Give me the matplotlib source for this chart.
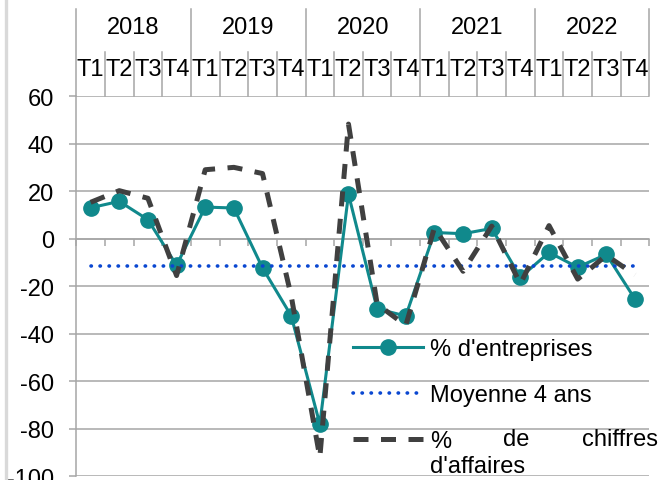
import numpy as np
import matplotlib.pyplot as plt
from matplotlib.lines import Line2D

plt.rcParams['font.family'] = ['Liberation Sans', 'DejaVu Sans']
plt.rcParams['axes.unicode_minus'] = False

# data
years = ['2018', '2019', '2020', '2021', '2022']
quarters = ['T1', 'T2', 'T3', 'T4']
entreprises = [13, 15.7, 8, -11.2, 13.3, 12.9, -12.3, -32.4, -78, 18.7,
               -29.5, -32.5, 2.6, 2.1, 4.3, -16.2, -5.8, -12, -6.6, -25.4]
moyenne = [-11.6, -11.6, -11.6, -11.6, -11.6, -11.6, -11.6, -11.6, -11.6, -11.6,
           -11.6, -11.6, -11.6, -11.6, -11.6, -11.6, -11.6, -11.6, -11.6, -11.6]
chiffres = [15.3, 20.2, 17, -15.5, 29, 30, 27.4, -24, -92, 48.2,
            -27.5, -36.5, 4.6, -13.7, 5.3, -19, 5.5, -17, -7, -15.2]

grey = '#a6a6a6'
fs = 17

fig = plt.figure(figsize=(6.6, 4.81), dpi=100)
ax = fig.add_axes([0.1156, 0.0073, 0.8682, 0.7910])

x = np.arange(len(entreprises))
ax.plot(x, entreprises, color='#10898c', lw=2.2, marker='o', ms=11,
        label="% d'entreprises", zorder=3)
ax.plot(x, moyenne, color='#0a47d1', lw=2.6, linestyle=(0, (0.1, 2.4)),
        dash_capstyle='round', label='Moyenne 4 ans', zorder=4)
ax.plot(x, chiffres, color='#404040', lw=3.6, linestyle=(0, (3, 2.5)),
        label='%', zorder=5)

ax.set_xlim(-0.5, 19.5)
ax.set_ylim(-100, 60)
ax.set_yticks(np.arange(-100, 61, 20))
ax.yaxis.grid(True, color=grey, lw=1.1)
ax.set_axisbelow(True)
ax.tick_params(axis='y', length=5, width=1.1, color=grey, pad=11, labelsize=fs)

# category axis crossing at 0, labels drawn at the top
ax.spines['bottom'].set_position(('data', 0))
ax.spines['bottom'].set_color(grey)
ax.spines['bottom'].set_linewidth(1.1)
ax.spines['left'].set_color(grey)
ax.spines['left'].set_linewidth(1.1)
ax.spines['top'].set_visible(False)
ax.spines['right'].set_visible(False)
ax.set_xticks(np.arange(-0.5, 20, 1))
ax.tick_params(axis='x', length=5, width=1.1, color=grey, labelbottom=False)

tr = ax.get_xaxis_transform()
for i in range(21):
    top = 1.229 if i % 4 == 0 else 1.1156
    ax.plot([i - 0.5, i - 0.5], [1, top], color=grey, lw=1.1,
            transform=tr, clip_on=False)
for i in range(20):
    ax.text(i, 1.07, quarters[i % 4], transform=tr, ha='center', va='center',
            fontsize=fs)
for k, yr in enumerate(years):
    ax.text(4 * k + 1.5, 1.182, yr, transform=tr, ha='center', va='center',
            fontsize=fs)

ax.legend(loc='upper left', bbox_to_anchor=(0.535, 0.295),
          bbox_transform=fig.transFigure, frameon=False, fontsize=fs,
          borderpad=0, borderaxespad=0, handlelength=2.97,
          handletextpad=0.3, labelspacing=1.02)
# rest of the justified third legend label
fig.text(503 / 660, 1 - 440 / 481, 'de', fontsize=fs, va='center', ha='left')
fig.text(582 / 660, 1 - 440 / 481, 'chiffres', fontsize=fs, va='center', ha='left')
fig.text(430 / 660, 1 - 467 / 481, "d'affaires", fontsize=fs, va='center', ha='left')

# light border on the left edge
fig.add_artist(Line2D([0.0098, 0.0098], [0, 1], color='#d9d9d9', lw=2.4))

fig.savefig('out.png', dpi=100)
